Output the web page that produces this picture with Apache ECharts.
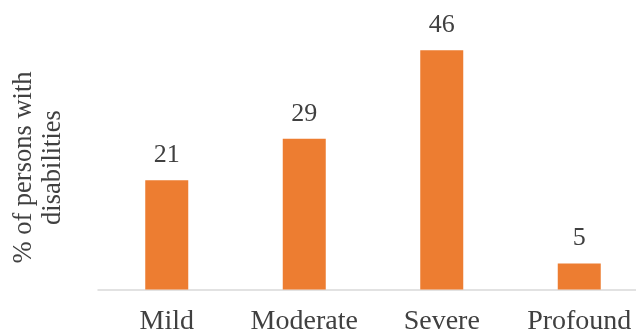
<!DOCTYPE html>
<html>
<head>
<meta charset="utf-8">
<script src="https://cdn.jsdelivr.net/npm/echarts@6/dist/echarts.min.js"></script>
<style>
  html, body { margin: 0; padding: 0; background: #ffffff; }
  #chart { width: 636px; height: 332px; }
</style>
</head>
<body>
<div id="chart"></div>
<script>
// Share of persons with disabilities by severity level
const categories = ['Mild', 'Moderate', 'Severe', 'Profound'];
const shares = [21, 29, 46, 5];
const yTitle = '% of persons with\ndisabilities';

const FONT = '"Liberation Serif", "Times New Roman", serif';

const chart = echarts.init(document.getElementById('chart'), null, { renderer: 'canvas' });
chart.setOption({
  animation: false,
  backgroundColor: '#ffffff',
  grid: {
    left: 98, right: -12, top: 29.5, bottom: 42.5,
    containLabel: false,
    outerBoundsMode: 'none'
  },
  xAxis: {
    type: 'category',
    data: categories,
    axisLine: { lineStyle: { color: '#d9d9d9', width: 1.5 } },
    axisTick: { show: false },
    axisLabel: { interval: 0, color: '#404040', fontFamily: FONT, fontSize: 28, margin: 18 }
  },
  yAxis: {
    type: 'value',
    min: 0,
    max: 50,
    show: false
  },
  graphic: [{
    type: 'text',
    x: 39,
    y: 167.5,
    rotation: Math.PI / 2,
    style: {
      text: yTitle,
      fill: '#404040',
      font: '26.5px ' + FONT,
      lineHeight: 29,
      align: 'center',
      verticalAlign: 'middle'
    }
  }],
  series: [{
    type: 'bar',
    data: shares,
    barWidth: 43,
    itemStyle: { color: '#ED7D31' },
    label: {
      show: true,
      position: 'top',
      distance: 12,
      color: '#404040',
      fontFamily: FONT,
      fontSize: 26
    }
  }]
});
</script>
</body>
</html>
